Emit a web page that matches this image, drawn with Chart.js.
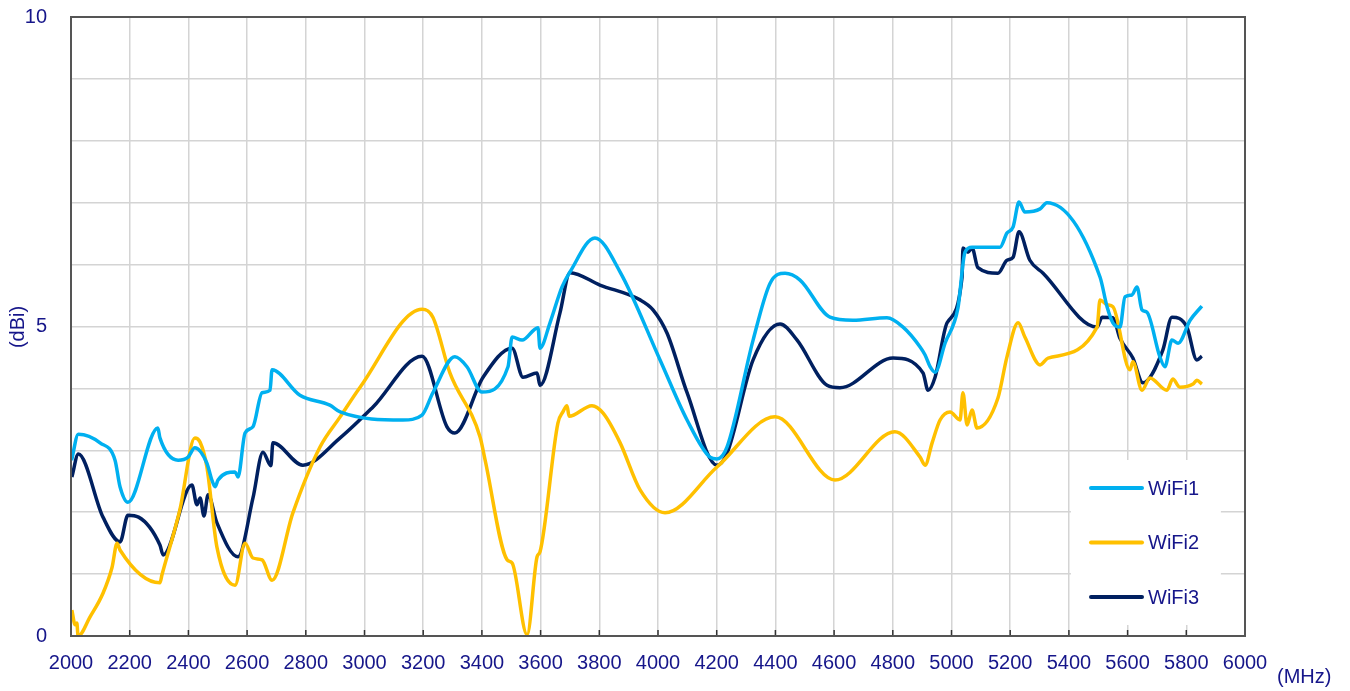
<!DOCTYPE html>
<html>
<head>
<meta charset="utf-8">
<script src="https://cdn.jsdelivr.net/npm/chart.js@4.4.1/dist/chart.umd.min.js"></script>
<style>
  body { margin: 0; background: #fff; }
  #wrap { width: 1350px; height: 691px; }
</style>
</head>
<body>
<div id="wrap"><canvas id="gain-canvas" width="1350" height="691"></canvas></div>
<script>
// frequency (MHz) / gain (dBi)
var wifi1Freq = [2002,2025,2099,2150,2167,2194,2296,2303,2365,2399,2422,2463,2480,2491,2501,2559,2569,2593,2620,2651,2678,2685,2780,2882,2917,3131,3196,3233,3308,3349,3400,3489,3503,3537,3591,3598,3632,3673,3700,3785,3871,4007,4099,4177,4201,4235,4324,4382,4433,4484,4586,4664,4780,4835,4893,4910,4927,4944,4978,5022,5046,5070,5165,5189,5210,5230,5250,5302,5325,5506,5530,5550,5574,5591,5615,5632,5649,5666,5710,5727,5751,5772,5813,5853];
var wifi1Gain = [2.84,3.26,3.12,2.84,2.41,2.16,3.36,3.20,2.84,2.89,3.04,2.79,2.52,2.41,2.52,2.65,2.57,3.28,3.38,3.93,3.97,4.30,3.89,3.73,3.62,3.49,3.57,3.93,4.51,4.35,3.94,4.35,4.83,4.78,4.98,4.65,5.06,5.64,5.88,6.43,5.88,4.46,3.49,2.89,2.86,3.05,4.78,5.70,5.86,5.75,5.15,5.10,5.14,4.99,4.67,4.54,4.35,4.26,4.73,5.30,6.20,6.28,6.28,6.51,6.61,7.01,6.85,6.90,7.00,5.80,5.32,5.06,4.99,5.48,5.51,5.64,5.27,5.23,4.51,4.35,4.78,4.73,5.10,5.33];

var wifi2Freq = [2003,2014,2020,2024,2065,2109,2140,2157,2167,2303,2310,2371,2422,2440,2463,2497,2559,2593,2620,2651,2685,2756,2848,2917,2985,3196,3233,3291,3394,3411,3486,3503,3554,3588,3598,3659,3676,3690,3697,3775,3813,3871,3939,4024,4201,4399,4603,4807,4893,4910,4934,4961,4995,5029,5039,5053,5070,5087,5158,5189,5227,5250,5302,5329,5496,5506,5530,5550,5608,5618,5649,5676,5734,5754,5778,5823,5836,5853];
var wifi2Gain = [0.42,0.18,0.21,0.0,0.31,0.69,1.11,1.50,1.39,0.86,0.99,2.04,3.20,3.13,2.73,1.44,0.82,1.50,1.26,1.23,0.90,1.99,3.05,3.54,4.02,5.28,5.15,4.25,3.21,2.84,1.23,1.18,0.02,1.28,1.36,3.44,3.62,3.72,3.55,3.72,3.60,3.12,2.36,1.99,2.73,3.54,2.52,3.30,2.89,2.76,3.12,3.49,3.62,3.49,3.93,3.41,3.65,3.36,3.84,4.51,5.06,4.83,4.38,4.49,4.99,5.43,5.35,5.32,4.30,4.43,3.97,4.17,3.97,4.15,4.02,4.07,4.13,4.07];

var wifi3Freq = [2003,2025,2109,2167,2194,2230,2303,2314,2412,2429,2440,2453,2467,2497,2569,2620,2654,2681,2688,2790,2917,3029,3196,3281,3308,3404,3503,3540,3588,3598,3666,3700,3802,3939,3983,4031,4099,4201,4235,4324,4416,4474,4576,4620,4801,4903,4920,4944,4985,5036,5039,5056,5070,5090,5158,5189,5210,5230,5267,5312,5496,5513,5550,5574,5618,5652,5720,5751,5802,5836,5853];
var wifi3Gain = [2.57,2.94,1.92,1.52,1.95,1.92,1.47,1.31,2.44,2.12,2.23,1.94,2.28,1.83,1.28,2.23,2.97,2.75,3.12,2.76,3.20,3.70,4.52,3.38,3.28,4.18,4.65,4.18,4.25,4.05,5.22,5.87,5.67,5.43,5.27,4.89,3.93,2.76,2.95,4.46,5.04,4.78,4.05,4.01,4.49,4.25,3.97,4.18,5.06,5.80,6.27,6.20,6.27,5.95,5.86,6.07,6.12,6.53,6.07,5.86,4.99,5.15,5.14,4.81,4.49,4.09,4.62,5.15,4.99,4.46,4.52];

var seriesNames = ['WiFi1', 'WiFi2', 'WiFi3'];
var seriesColors = ['#00b0f0', '#ffc000', '#002060'];
var yTickLabels = [0, 5, 10];

var textColor = '#16168a';
var fontName = '"Liberation Sans", Arial, sans-serif';

function toPoints(freq, gain) {
    return freq.map(function (f, i) { return { x: f, y: gain[i] }; });
}

var allFreq = [wifi1Freq, wifi2Freq, wifi3Freq];
var allGain = [wifi1Gain, wifi2Gain, wifi3Gain];

var datasets = seriesNames.map(function (name, i) {
    return {
        label: name,
        data: toPoints(allFreq[i], allGain[i]),
        borderColor: seriesColors[i],
        backgroundColor: seriesColors[i],
        borderWidth: 3.5,
        pointRadius: 0,
        cubicInterpolationMode: 'monotone',
        fill: false
    };
});

// frame, inner ticks, legend box and the axis unit labels
var decorations = {
    id: 'decorations',
    afterDatasetsDraw: function (chart) {
        var c = chart.ctx;
        var a = chart.chartArea;
        var xs = chart.scales.x;
        c.save();

        // inside tick marks on bottom axis
        c.strokeStyle = '#333';
        c.lineWidth = 1.5;
        for (var f = 2200; f < 6000; f += 200) {
            var px = xs.getPixelForValue(f);
            c.beginPath();
            c.moveTo(px, a.bottom);
            c.lineTo(px, a.bottom - 6);
            c.stroke();
        }

        // legend box
        var bx = xs.getPixelForValue(5400) + 2;
        var bw = 150;
        var by = 460;
        var bh = 165;
        c.fillStyle = '#fff';
        c.fillRect(bx, by, bw, bh);
        c.font = '20px ' + fontName;
        c.textBaseline = 'middle';
        c.textAlign = 'left';
        for (var i = 0; i < seriesNames.length; i++) {
            var ly = 488 + i * 54.5;
            c.strokeStyle = seriesColors[i];
            c.lineWidth = 4;
            c.lineCap = 'round';
            c.beginPath();
            c.moveTo(1091, ly);
            c.lineTo(1142, ly);
            c.stroke();
            c.fillStyle = textColor;
            c.fillText(seriesNames[i], 1148, ly + 1);
        }

        // frame
        c.lineCap = 'butt';
        c.strokeStyle = '#555';
        c.lineWidth = 2;
        c.strokeRect(a.left, a.top, a.right - a.left, a.bottom - a.top);

        // unit labels
        c.fillStyle = textColor;
        c.font = '20px ' + fontName;
        c.textAlign = 'left';
        c.fillText('(MHz)', 1277, 677);
        c.translate(18, 327);
        c.rotate(-Math.PI / 2);
        c.textAlign = 'center';
        c.fillText('(dBi)', 0, 0);
        c.restore();
    }
};

var canvas = document.getElementById('gain-canvas');
var ctx = canvas.getContext('2d');

var chart = new Chart(ctx, {
    type: 'line',
    data: { datasets: datasets },
    options: {
        responsive: false,
        animation: false,
        layout: { padding: { top: 17, right: 105, left: 0, bottom: 0 } },
        plugins: {
            legend: { display: false },
            tooltip: { enabled: false }
        },
        scales: {
            x: {
                type: 'linear',
                min: 2000,
                max: 6000,
                afterFit: function (scale) {
                    scale.height = 55;
                    scale.paddingLeft = 0;
                    scale.paddingRight = 0;
                },
                ticks: {
                    stepSize: 200,
                    autoSkip: false,
                    maxRotation: 0,
                    padding: 15,
                    color: textColor,
                    font: { size: 20, family: fontName },
                    callback: function (v) { return String(v); }
                },
                grid: { color: '#d4d4d4', lineWidth: 1.5, drawTicks: false },
                border: { color: '#444', width: 2 }
            },
            y: {
                min: 0,
                max: 10,
                afterFit: function (scale) {
                    scale.width = 71;
                    scale.paddingTop = 0;
                    scale.paddingBottom = 0;
                },
                ticks: {
                    stepSize: 1,
                    padding: 24,
                    color: textColor,
                    font: { size: 20, family: fontName },
                    callback: function (v) { return yTickLabels.indexOf(v) >= 0 ? String(v) : ''; }
                },
                grid: { color: '#d4d4d4', lineWidth: 1.5, drawTicks: false },
                border: { color: '#444', width: 2 }
            }
        }
    },
    plugins: [decorations]
});
</script>
</body>
</html>
